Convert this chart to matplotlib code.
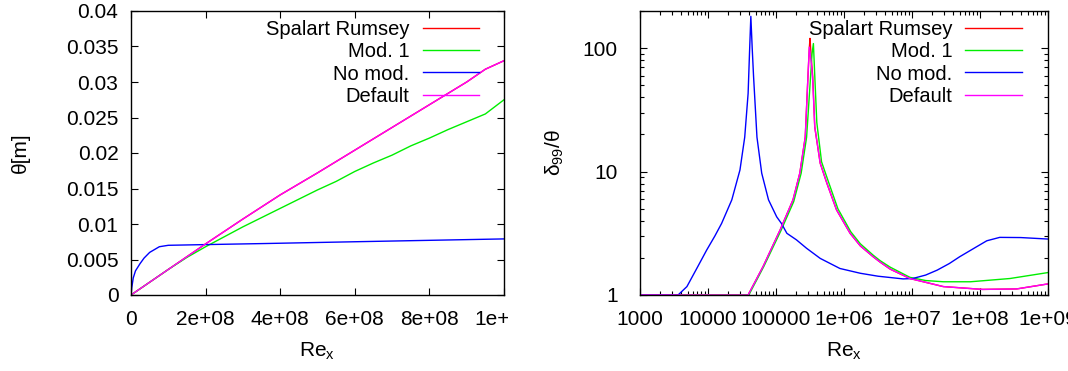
import numpy as np
import matplotlib
matplotlib.use("Agg")
from matplotlib import pyplot as plt
from matplotlib.ticker import FixedLocator, FuncFormatter, LogLocator, NullFormatter
from matplotlib.transforms import Bbox, TransformedBbox

plt.rcParams['font.family'] = ['Liberation Sans', 'DejaVu Sans']
plt.rcParams['mathtext.fontset'] = 'custom'
plt.rcParams['mathtext.rm'] = 'Liberation Sans'
plt.rcParams['mathtext.it'] = 'Liberation Sans:italic'
plt.rcParams['mathtext.default'] = 'regular'

labels = ['Spalart Rumsey', 'Mod. 1', 'No mod.', 'Default']
colors = ['#ff0000', '#00ee00', '#0000ff', '#ff00ff']

# left panel: momentum thickness theta vs Re_x
re_sr = [0, 1e8, 2e8, 3e8, 4e8, 5e8, 6e8, 7e8, 8e8, 9e8, 9.5e8, 1e9]
th_sr = [0, 0.0036, 0.0072, 0.0107, 0.0141, 0.0172, 0.0204, 0.0236, 0.0268, 0.0300, 0.0318, 0.0330]
re_m1 = [0, 1e8, 1.5e8, 2e8, 2.5e8, 3e8, 3.5e8, 4e8, 4.5e8, 5e8, 5.5e8, 6e8,
         6.5e8, 7e8, 7.5e8, 8e8, 8.5e8, 9e8, 9.5e8, 9.8e8, 1e9]
th_m1 = [0, 0.0036, 0.0053, 0.0068, 0.0082, 0.0096, 0.0109, 0.0122, 0.0135, 0.0148,
         0.0160, 0.0174, 0.0186, 0.0197, 0.0210, 0.0221, 0.0233, 0.0244, 0.0255, 0.0267, 0.0275]
re_nm = [0, 2e6, 6e6, 1.2e7, 2.4e7, 3.5e7, 5e7, 7.6e7, 1e8, 2e8, 3.6e8, 6e8, 1e9]
th_nm = [0, 0.0010, 0.0024, 0.0034, 0.0044, 0.0052, 0.0060, 0.0068, 0.0070, 0.0071,
         0.00725, 0.0075, 0.0079]

# right panel: delta99/theta vs Re_x, Re_x given as log10 exponents
lr_sr = [3.0, 4.59, 4.81, 5.06, 5.25, 5.35, 5.43, 5.47, 5.49, 5.50, 5.52, 5.54, 5.57,
         5.65, 5.75, 5.89, 6.09, 6.24, 6.43, 6.53, 6.68, 6.97, 7.46, 8.04, 8.54, 9.0]
rt_sr = [1, 1, 1.7, 3.36, 5.9, 9.7, 19, 59, 100, 120, 80, 59, 23,
         11.7, 8.0, 4.9, 3.16, 2.5, 2.04, 1.85, 1.62, 1.36, 1.17, 1.11, 1.12, 1.23]
lr_m1 = [3.0, 4.60, 4.82, 5.07, 5.26, 5.37, 5.45, 5.50, 5.53, 5.55, 5.57, 5.60, 5.67,
         5.77, 5.91, 6.10, 6.24, 6.43, 6.53, 6.68, 6.97, 7.20, 7.46, 7.86, 8.44, 9.0]
rt_m1 = [1, 1, 1.7, 3.3, 5.7, 9.7, 19, 50, 90, 109, 60, 25, 12,
         8.3, 5.0, 3.25, 2.6, 2.1, 1.9, 1.68, 1.39, 1.31, 1.28, 1.28, 1.36, 1.52]
lr_nm = [3.0, 3.56, 3.69, 3.85, 3.98, 4.10, 4.20, 4.35, 4.47, 4.54, 4.59, 4.61, 4.63,
         4.65, 4.67, 4.72, 4.79, 4.89, 5.01, 5.08, 5.16, 5.30, 5.45, 5.65, 5.94, 6.24,
         6.50, 6.87, 7.01, 7.20, 7.37, 7.55, 7.70, 7.95, 8.10, 8.29, 8.60, 9.0]
rt_nm = [1, 1, 1.17, 1.7, 2.31, 3.0, 3.8, 5.9, 10.3, 19, 43, 90, 181,
         100, 59, 19, 9.7, 5.9, 4.3, 3.8, 3.16, 2.8, 2.39, 1.98, 1.64, 1.5,
         1.42, 1.35, 1.36, 1.45, 1.59, 1.8, 2.04, 2.46, 2.75, 2.93, 2.92, 2.84]
lr_df = [3.0, 4.59, 4.81, 5.06, 5.25, 5.35, 5.43, 5.47, 5.49, 5.52, 5.54, 5.57,
         5.65, 5.75, 5.89, 6.09, 6.24, 6.43, 6.53, 6.68, 6.97, 7.46, 8.04, 8.54, 9.0]
rt_df = [1, 1, 1.7, 3.36, 5.9, 9.7, 19, 59, 102, 75, 55, 23,
         11.7, 8.0, 4.9, 3.16, 2.5, 2.04, 1.85, 1.62, 1.36, 1.17, 1.11, 1.12, 1.23]

W, H = 1068, 371
fig = plt.figure(figsize=(W / 100, H / 100), dpi=100)
ax1 = fig.add_axes([131 / W, 76 / H, 373 / W, 284 / H])
ax2 = fig.add_axes([640 / W, 76 / H, 408 / W, 284 / H])

lw = 1.0
ax1.plot(re_sr, th_sr, color=colors[0], lw=lw, label=labels[0])
ax1.plot(re_m1, th_m1, color=colors[1], lw=lw, label=labels[1])
ax1.plot(re_nm, th_nm, color=colors[2], lw=lw, label=labels[2])
ax1.plot(re_sr, th_sr, color=colors[3], lw=lw, label=labels[3])

ax2.plot(10 ** np.array(lr_sr), rt_sr, color=colors[0], lw=lw, label=labels[0])
ax2.plot(10 ** np.array(lr_m1), rt_m1, color=colors[1], lw=lw, label=labels[1])
ax2.plot(10 ** np.array(lr_nm), rt_nm, color=colors[2], lw=lw, label=labels[2])
ax2.plot(10 ** np.array(lr_df), rt_df, color=colors[3], lw=lw, label=labels[3])

gfmt = FuncFormatter(lambda v, p: '%g' % v)
fs = 15

ax1.set_xlim(0, 1e9)
ax1.set_ylim(0, 0.04)
ax1.xaxis.set_major_locator(FixedLocator([0, 2e8, 4e8, 6e8, 8e8, 1e9]))
ax1.yaxis.set_major_locator(FixedLocator(np.arange(0, 0.0401, 0.005)))
ax1.xaxis.set_major_formatter(gfmt)
ax1.yaxis.set_major_formatter(gfmt)
ax1.tick_params(direction='in', top=True, right=True, labelsize=fs, length=5, width=0.8)
ax1.tick_params(axis='x', pad=11)
ax1.tick_params(axis='y', pad=9)
ax1.set_xlabel('Re$_x$', fontsize=fs, labelpad=8)
ax1.set_ylabel('θ[m]', fontsize=fs, labelpad=26)

ax2.set_xscale('log')
ax2.set_yscale('log')
ax2.set_xlim(1e3, 1e9)
ax2.set_ylim(1, 200)
ax2.xaxis.set_major_locator(FixedLocator([1e3, 1e4, 1e5, 1e6, 1e7, 1e8, 1e9]))
ax2.yaxis.set_major_locator(FixedLocator([1, 10, 100]))
ax2.xaxis.set_minor_locator(LogLocator(base=10, subs=np.arange(2, 10)))
ax2.yaxis.set_minor_locator(LogLocator(base=10, subs=np.arange(2, 10)))
ax2.xaxis.set_minor_formatter(NullFormatter())
ax2.yaxis.set_minor_formatter(NullFormatter())
ax2.xaxis.set_major_formatter(gfmt)
ax2.yaxis.set_major_formatter(gfmt)
ax2.tick_params(which='both', direction='in', top=True, right=True, labelsize=fs, width=0.8)
ax2.tick_params(which='major', length=5)
ax2.tick_params(which='minor', length=3)
ax2.tick_params(axis='x', pad=11)
ax2.tick_params(axis='y', pad=16)
ax2.set_xlabel('Re$_x$', fontsize=fs, labelpad=8)
ax2.set_ylabel('δ$_{99}$/θ', fontsize=fs, labelpad=12)

for ax, xa in ((ax1, 0.933), (ax2, 0.936)):
    ax.legend(loc='upper right', bbox_to_anchor=(xa, 0.968), frameon=False,
              markerfirst=False, fontsize=14.5, handlelength=2.8, handletextpad=0.65,
              labelspacing=0.16, borderaxespad=0, borderpad=0)
    for sp in ax.spines.values():
        sp.set_linewidth(1.0)

# the left panel's last tick label is cut off in the original
fig.canvas.draw()
clip = TransformedBbox(Bbox([[0, 0], [508 / W, 1]]), fig.transFigure)
for t in ax1.xaxis.get_ticklabels():
    t.set_clip_box(clip)
    t.set_clip_on(True)

fig.savefig('out.png', dpi=100)
